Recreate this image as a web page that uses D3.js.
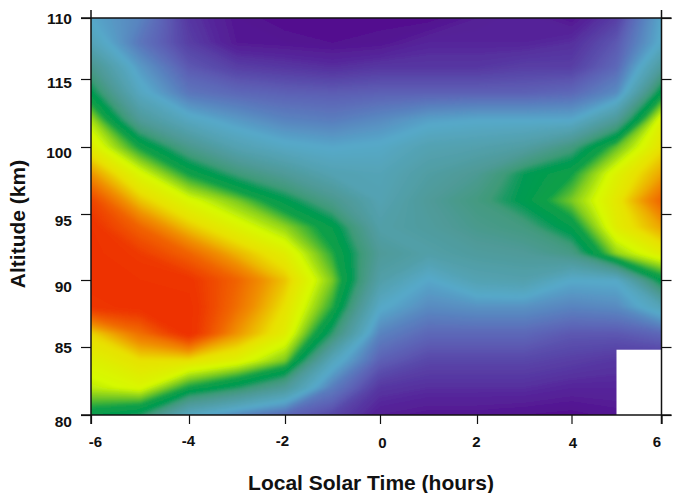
<!DOCTYPE html>
<html>
<head>
<meta charset="utf-8">
<script src="https://cdn.jsdelivr.net/npm/d3@7"></script>
<style>
  html, body { margin: 0; background: white; }
  svg { display: block; }
  text { font-family: "Liberation Sans", Arial, sans-serif; font-weight: bold; fill: #111; }
</style>
</head>
<body>
<div id="chart"></div>
<script>
const hours = [-6, -5, -4, -3, -2, -1, 0, 1, 2, 3, 4, 5, 6];
const altitudes = [110, 108, 106, 104, 102, 100, 98, 96, 94, 92, 90, 88, 86, 84, 82, 80];

// one row per altitude, top to bottom
const field = [
  [2.0, 1.5, 0.5, 0.1, 0.0, 0.0, 0.0, 0.0, 0.2, 0.3, 0.1, 0.6, 2.0],
  [2.4, 1.3, 0.6, 0.15, 0.1, 0.05, 0.1, 0.3, 0.3, 0.3, 0.4, 0.9, 2.1],
  [3.2, 1.8, 0.9, 0.6, 0.5, 0.4, 0.5, 0.5, 0.5, 0.6, 0.6, 1.1, 2.9],
  [3.9, 2.2, 1.3, 1.1, 1.0, 0.95, 1.0, 1.0, 1.0, 1.0, 1.1, 1.6, 4.0],
  [4.8, 3.0, 2.2, 1.8, 1.5, 1.4, 1.6, 1.9, 2.0, 2.0, 2.0, 3.0, 5.2],
  [5.3, 4.2, 3.2, 2.5, 2.15, 2.0, 2.1, 2.5, 2.6, 2.8, 3.4, 4.5, 5.5],
  [6.0, 5.1, 4.2, 3.5, 3.0, 2.5, 2.4, 2.8, 3.1, 3.8, 4.2, 5.2, 5.9],
  [6.7, 5.7, 5.1, 4.6, 3.9, 3.2, 2.5, 3.0, 3.4, 3.9, 4.6, 5.4, 6.4],
  [6.95, 6.4, 5.7, 5.2, 4.7, 4.0, 2.7, 2.9, 3.2, 3.4, 4.0, 5.3, 5.9],
  [7.0, 6.8, 6.4, 5.8, 5.3, 4.3, 3.0, 2.7, 2.9, 3.0, 3.3, 4.7, 5.3],
  [7.0, 6.95, 6.9, 6.4, 5.7, 4.6, 2.7, 2.0, 2.5, 2.6, 2.05, 2.1, 4.0],
  [6.9, 7.0, 7.0, 6.3, 5.5, 4.3, 2.1, 1.6, 1.7, 1.7, 1.5, 1.6, 2.4],
  [5.6, 6.3, 7.0, 6.0, 5.3, 3.6, 1.5, 1.1, 1.1, 1.1, 0.9, 0.9, 1.1],
  [5.2, 5.5, 5.5, 5.2, 4.6, 2.3, 1.0, 0.7, 0.7, 0.7, 0.6, 0.5, 0.5],
  [4.9, 5.1, 4.2, 3.7, 3.0, 1.4, 0.5, 0.4, 0.4, 0.4, 0.3, 0.3, 0.3],
  [4.0, 3.7, 2.2, 1.6, 1.1, 0.7, 0.2, 0.1, 0.1, 0.05, 0.0, 0.1, 0.1]
];

// no data in this corner
const gapHours = [5, 6];
const gapAltitudes = [80, 84.8];

const xTicks = [-6, -4, -2, 0, 2, 4, 6];
const yTicks = [80, 85, 90, 95, 100, 105, 110];
const yTickLabels = ["80", "85", "90", "95", "100", "115", "110"];

const colorStops = [0, 1, 2, 3, 3.5, 3.8, 4.2, 4.6, 5, 5.5, 6, 6.4, 6.8, 7];
const colorRange = ["#520f8f", "#5c62b6", "#56a9c9", "#4f9a98", "#3f9a78", "#009a52", "#10a048", "#80cc20",
  "#d6fa00", "#e8e000", "#f09000", "#f06000", "#ee3800", "#ee3000"];

const width = 673;
const height = 493;

const x = d3.scaleLinear()
  .domain([-6, -4, -2, 0, 2, 4, 6])
  .range([91, 189, 285, 380, 477, 571.5, 661.5]);

// the ticks in the original are not evenly spaced
const y = d3.scaleLinear()
  .domain(yTicks)
  .range([415, 347, 280, 214, 147, 79, 18]);

const color = d3.scaleLinear().domain(colorStops).range(colorRange);

const svg = d3.select("#chart").append("svg")
  .attr("width", width)
  .attr("height", height);

const defs = svg.append("defs");
defs.append("clipPath").attr("id", "plotClip")
  .append("rect")
  .attr("x", x(-6))
  .attr("y", y(110))
  .attr("width", x(6) - x(-6))
  .attr("height", y(80) - y(110));
defs.append("filter").attr("id", "soft")
  .attr("x", 0).attr("y", 0).attr("width", 1).attr("height", 1)
  .append("feGaussianBlur").attr("stdDeviation", 1.6);

const nx = hours.length;
const ny = altitudes.length;
const thresholds = d3.range(0, 7.01, 0.05);
const contours = d3.contours().size([nx, ny]).thresholds(thresholds)(field.flat());

const hourStep = hours[1] - hours[0];
const altStep = altitudes[1] - altitudes[0];
const gridToPlot = d3.geoTransform({
  point: function (i, j) {
    this.stream.point(
      x(hours[0] + (i - 0.5) * hourStep),
      y(altitudes[0] + (j - 0.5) * altStep)
    );
  }
});
const path = d3.geoPath(gridToPlot);

const plot = svg.append("g").attr("clip-path", "url(#plotClip)");
const heat = plot.append("g").attr("filter", "url(#soft)");

heat.append("rect")
  .attr("x", x(-6) - 10)
  .attr("y", y(110) - 10)
  .attr("width", x(6) - x(-6) + 20)
  .attr("height", y(80) - y(110) + 20)
  .attr("fill", color(0));

heat.selectAll("path")
  .data(contours)
  .join("path")
  .attr("d", path)
  .attr("fill", (d) => color(d.value));

plot.append("rect")
  .attr("x", x(gapHours[0]))
  .attr("y", y(gapAltitudes[1]))
  .attr("width", x(gapHours[1]) - x(gapHours[0]))
  .attr("height", y(gapAltitudes[0]) - y(gapAltitudes[1]))
  .attr("fill", "white");

const xLabelDy = [0, -1, -1, 1, 0, 1, 0];
const xLabelDx = [4, -1, -3, 2, -1, 1, -5];
const yLabelDy = [6, 0, 6, 6, 5, 3, 0];

const bottomAxis = svg.append("g")
  .attr("transform", `translate(0,${y(80)})`)
  .call(d3.axisBottom(x).tickValues(xTicks).tickSize(9).tickPadding(12).tickFormat((d) => String(d)));
bottomAxis.selectAll("text")
  .style("font-size", "15px")
  .attr("dx", (d, i) => xLabelDx[i])
  .attr("dy", (d, i) => 11 + xLabelDy[i]);

const leftAxis = svg.append("g")
  .attr("transform", `translate(${x(-6)},0)`)
  .call(d3.axisLeft(y).tickValues(yTicks).tickSize(10).tickPadding(9).tickFormat((d, i) => yTickLabels[i]));
leftAxis.selectAll("text")
  .style("font-size", "15.5px")
  .attr("dy", (d, i) => 5 + yLabelDy[i]);

const rightAxis = svg.append("g")
  .attr("transform", `translate(${x(6)},0)`)
  .call(d3.axisRight(y).tickValues(yTicks).tickSize(10).tickFormat(""));

[bottomAxis, leftAxis, rightAxis].forEach((g) => {
  g.select(".domain").remove();
  g.selectAll("line").attr("stroke", "#111").attr("stroke-width", 1.2);
});

// frame lines run past the plot on every side
const frame = svg.append("g").attr("stroke", "#111").attr("stroke-width", 1.5);
[x(-6), x(6)].forEach((px) => {
  frame.append("line").attr("x1", px).attr("x2", px).attr("y1", y(110) - 8).attr("y2", y(80) + 9);
});
[y(110), y(80)].forEach((py) => {
  frame.append("line").attr("x1", x(-6) - 10).attr("x2", x(6) + 10).attr("y1", py).attr("y2", py);
});

svg.append("text")
  .attr("x", 371)
  .attr("y", 490)
  .attr("text-anchor", "middle")
  .style("font-size", "21px")
  .text("Local Solar Time (hours)");

svg.append("text")
  .attr("transform", "translate(25,224) rotate(-90)")
  .attr("text-anchor", "middle")
  .style("font-size", "21px")
  .text("Altitude (km)");
</script>
</body>
</html>
